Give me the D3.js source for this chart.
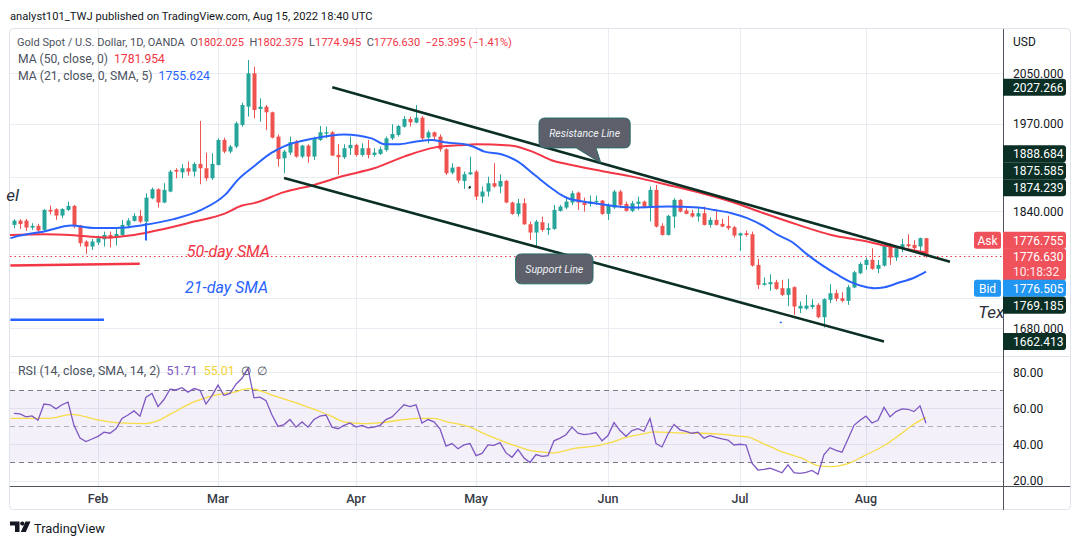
<!DOCTYPE html>
<html><head><meta charset="utf-8">
<script src="https://cdn.jsdelivr.net/npm/d3@7"></script>
<style>body{margin:0;background:#fff;} svg{display:block;font-family:Roboto,"Noto Sans",sans-serif;} text{white-space:pre;}</style>
</head><body><svg id="c" width="1079" height="545"></svg>
<script>
// ---------------- DATA ----------------
const opens=[1820.8,1826.9,1826.9,1817.0,1819.4,1813.7,1842.2,1843.2,1834.1,1842.2,1848.0,1819.9,1797.3,1790.3,1795.9,1800.5,1806.6,1802.9,1806.6,1819.9,1826.5,1833.7,1825.5,1859.1,1872.2,1852.9,1868.8,1900.6,1897.1,1903.1,1898.1,1909.6,1903.1,1888.3,1908.1,1945.6,1928.0,1935.6,1968.5,1996.8,2049.5,1993.2,1996.8,1988.1,1950.7,1918.0,1926.5,1943.2,1920.5,1937.1,1920.5,1945.6,1955.2,1957.3,1923.0,1919.5,1933.1,1938.1,1923.0,1933.1,1923.0,1924.5,1930.5,1948.1,1953.2,1966.0,1977.7,1972.1,1979.8,1949.1,1957.3,1950.7,1931.5,1896.6,1905.1,1884.4,1894.2,1898.1,1861.5,1868.8,1881.0,1876.1,1884.4,1852.9,1836.5,1851.8,1821.7,1810.0,1824.6,1813.7,1815.1,1840.8,1845.6,1852.9,1867.3,1852.9,1850.9,1853.7,1855.7,1836.5,1845.6,1868.8,1850.9,1840.8,1850.9,1854.2,1847.0,1871.2,1819.4,1806.6,1832.7,1856.7,1841.3,1837.5,1832.7,1837.5,1820.8,1827.9,1822.3,1819.4,1817.5,1805.7,1809.0,1807.6,1764.8,1737.5,1738.4,1741.2,1733.0,1724.0,1734.4,1705.6,1705.6,1707.7,1710.6,1694.2,1717.3,1726.3,1719.5,1716.0,1734.0,1753.4,1764.8,1771.8,1759.4,1763.9,1791.7,1775.0,1788.0,1793.5,1792.6,1790.3,1802.025];
const highs=[1828.9,1829.0,1829.5,1823.2,1822.3,1843.6,1848.5,1844.6,1844.6,1854.2,1849.4,1820.8,1799.1,1801.0,1805.7,1811.3,1811.3,1816.1,1827.9,1830.3,1837.5,1842.2,1866.3,1874.6,1873.6,1881.0,1900.6,1903.1,1909.1,1913.0,1912.0,1974.7,1926.5,1925.5,1948.1,1949.1,1938.1,1973.6,2003.1,2070.9,2060.1,2010.0,1999.4,1989.1,1954.2,1930.5,1950.7,1945.6,1938.1,1939.1,1950.7,1967.0,1966.0,1959.3,1939.1,1939.1,1950.7,1940.1,1940.6,1945.6,1933.1,1935.6,1950.7,1969.6,1968.5,1982.3,1981.3,1999.4,1982.3,1960.3,1958.3,1954.2,1933.1,1910.6,1905.6,1898.1,1920.5,1900.6,1876.1,1890.7,1910.6,1894.2,1885.9,1854.2,1858.1,1859.1,1825.5,1827.9,1832.7,1823.2,1849.4,1849.4,1861.5,1869.8,1868.8,1860.0,1863.0,1863.0,1856.7,1851.8,1871.2,1871.2,1854.2,1855.2,1861.5,1855.7,1876.1,1878.5,1823.2,1835.1,1859.1,1857.7,1844.6,1842.2,1847.0,1847.0,1831.7,1840.8,1829.4,1833.7,1819.4,1810.0,1812.8,1811.3,1773.2,1747.6,1752.0,1744.3,1744.3,1745.7,1735.7,1715.1,1724.0,1718.2,1712.8,1719.5,1738.4,1730.8,1727.6,1737.5,1756.5,1768.5,1775.1,1787.9,1771.8,1793.5,1794.9,1788.9,1801.0,1807.5,1799.1,1802.9,1802.375];
const lows=[1816.1,1815.0,1812.3,1813.7,1806.6,1812.3,1836.0,1827.9,1830.3,1840.8,1816.1,1790.3,1780.0,1785.6,1792.6,1790.3,1788.9,1791.7,1804.3,1816.1,1825.5,1823.2,1823.2,1857.7,1845.6,1851.8,1867.8,1888.3,1888.3,1892.2,1890.7,1879.5,1884.4,1885.9,1907.1,1925.5,1925.5,1933.1,1966.0,1981.3,1978.8,1973.6,1960.8,1948.1,1905.6,1895.7,1923.0,1919.0,1918.0,1911.5,1915.5,1944.1,1948.1,1921.5,1893.2,1917.0,1923.0,1920.5,1920.5,1918.0,1920.5,1923.0,1928.0,1945.6,1950.7,1964.5,1966.0,1971.1,1945.6,1940.6,1945.6,1928.0,1893.2,1894.2,1881.0,1872.7,1893.2,1856.7,1851.8,1861.5,1874.6,1866.3,1851.8,1835.1,1832.7,1820.8,1799.6,1790.3,1811.3,1806.6,1813.7,1839.8,1843.2,1849.4,1842.2,1839.8,1847.0,1849.4,1835.1,1827.9,1843.6,1844.6,1839.8,1838.9,1842.2,1844.6,1825.5,1817.0,1805.7,1805.7,1816.1,1838.9,1836.0,1831.3,1825.5,1819.9,1817.0,1819.9,1817.5,1813.7,1802.9,1784.2,1804.3,1762.5,1732.1,1736.6,1729.5,1730.8,1722.3,1708.9,1697.3,1699.5,1704.0,1705.3,1692.9,1680.6,1712.8,1715.1,1714.2,1710.6,1733.0,1752.0,1758.0,1758.0,1753.4,1762.5,1764.8,1770.4,1782.4,1788.9,1784.2,1784.2,1774.945];
const closes=[1826.9,1822.0,1817.0,1819.4,1812.8,1842.2,1839.8,1834.1,1843.6,1848.0,1819.9,1795.0,1790.3,1797.3,1801.9,1806.6,1801.9,1808.0,1820.8,1827.0,1833.7,1825.5,1860.0,1872.2,1852.9,1871.2,1898.1,1898.1,1903.1,1898.1,1909.6,1903.1,1888.3,1909.6,1945.6,1928.0,1935.6,1971.1,1999.4,2049.5,1991.7,1996.8,1988.1,1949.1,1917.0,1928.0,1942.2,1920.5,1937.1,1920.5,1948.1,1957.3,1957.3,1922.0,1919.5,1933.1,1938.1,1923.0,1933.1,1923.0,1926.5,1931.5,1948.1,1954.7,1967.0,1977.7,1972.6,1979.8,1948.1,1957.3,1950.7,1931.5,1895.7,1904.1,1884.9,1894.2,1897.1,1861.5,1868.8,1881.0,1876.1,1884.4,1852.9,1836.5,1851.8,1821.7,1810.0,1825.5,1813.7,1816.1,1842.2,1847.0,1854.2,1866.3,1852.9,1849.4,1854.2,1855.2,1836.5,1848.5,1868.8,1849.4,1840.8,1851.8,1854.2,1847.0,1871.2,1818.4,1806.6,1833.7,1856.7,1839.8,1836.5,1832.7,1837.5,1820.8,1827.9,1820.8,1818.4,1816.1,1805.7,1809.0,1806.6,1763.9,1737.5,1739.7,1741.2,1732.1,1724.0,1733.0,1708.4,1709.3,1709.7,1710.6,1694.2,1718.2,1726.3,1718.6,1716.0,1734.4,1754.7,1766.2,1771.8,1759.4,1764.8,1791.7,1775.0,1788.0,1793.5,1790.8,1788.0,1802.0,1776.63];
const rsi=[57.2,56.9,55.3,55.8,53.4,62.4,62.0,59.7,62.0,63.5,50.6,43.5,41.6,43.0,44.5,46.8,46.2,48.7,54.4,56.3,58.6,55.7,66.2,68.3,61.0,64.9,70.6,70.2,71.5,69.0,71.0,70.0,62.4,67.1,72.9,67.1,68.3,73.4,76.7,82.0,65.8,66.2,64.3,56.3,50.0,51.0,53.8,49.6,52.5,49.6,53.8,55.7,56.3,49.6,48.7,50.6,51.9,49.6,50.6,49.2,49.6,50.6,53.8,55.3,58.6,62.0,61.0,62.0,51.9,53.8,52.5,48.7,39.1,40.5,37.6,39.7,40.5,33.8,35.0,39.7,39.5,41.0,35.3,32.9,37.2,32.5,30.0,34.4,33.4,33.8,42.0,43.5,45.4,49.6,46.2,45.4,45.8,46.6,42.0,44.9,52.1,47.7,44.5,47.7,48.7,47.3,54.4,40.5,38.6,45.8,51.1,48.1,47.3,46.2,46.8,43.5,44.9,43.9,43.1,42.4,39.7,40.1,39.7,29.6,25.8,26.2,26.8,25.6,24.3,28.7,24.3,23.9,24.5,25.6,23.5,34.4,38.2,36.7,35.7,43.0,50.6,53.4,55.7,51.9,53.4,60.5,55.3,58.2,59.7,59.5,58.2,61.4,51.71];
const rsiMaIdx=[-0.6,5.7,9.7,13.7,17.7,21.8,23.8,26.3,29.8,33.2,36.7,39,40.1,43.5,46.4,50.4,52.7,55,58.4,60.7,64.2,67.6,69.9,72.2,75.6,79.1,82.5,86,87.7,90,93.4,96.8,99.1,102,104.9,106.6,110.6,114.6,118.6,120.9,122,124.9,127.7,131.2,134,136.3,139.2,141.5,144.9,147.8,150.1,152];
const rsiMaVal=[54.4,54.4,56.7,53.8,51.9,51.5,52.9,57.2,63.3,67.1,69,71,70.6,66.8,63.8,59,56,52.5,51.5,51.9,53.4,54.4,54.4,52.5,50,44.9,40.5,36.7,35.9,35.3,37.8,39.1,40.7,43.9,45.8,47,46.4,46.2,45.4,44.5,44.3,40.5,36.3,32.5,28.3,27.7,29.6,33.4,39.1,45.8,51.5,55.01];
const ma50Idx=[-0.7,5,10,15,20,25,30,35,38,40,45,50,55,60,65,70,75,77,83,86.8,89.6,92.3,97.9,103.4,109,114.8,119.6,125.1,130.7,136.2,141.8,145.1,147.3,152];
const ma50Val=[1806.6,1807.5,1806,1803,1806.6,1815,1825.5,1836.5,1848.5,1852,1868,1878.5,1892,1903,1920.5,1934,1938,1939,1937,1926.5,1915,1909,1899,1890,1878.5,1866,1854,1837,1820.8,1806.6,1798,1791.7,1789,1781.954];
const ma21Idx=[-0.6,0,5,9.6,13.2,17,21.6,26.6,31,35.3,37.3,40,42.9,45,50,55,59.6,61.8,64,66.8,69.6,71.8,75.1,76.5,78.4,81.2,84,86.8,89.6,91.2,92.3,95.1,97.9,100.7,103.4,109,114,116.8,119.6,122.3,125.1,127.3,129.6,132.3,134.6,137.3,139.6,141.8,143.4,145.1,147.3,150.1,152];
const ma21Val=[1802,1803.5,1811.5,1819.8,1816.5,1816.5,1820.6,1829,1841.5,1865,1886,1906,1926,1936,1948,1954,1948,1939,1939,1943,1945.6,1942,1939,1935.6,1928,1924,1913,1893,1873.6,1864,1859,1854,1850.4,1847,1845.6,1847,1845.6,1842,1837.5,1830,1818.4,1806.6,1797,1778.7,1764.8,1751,1741,1735,1733,1734.4,1740,1747.6,1755.624];
const monthLabels=["Feb","Mar","Apr","May","Jun","Jul","Aug"];
const monthIdx=[14,34,57,77,99,121,142];
const priceTicks=[2050,1970,1890,1840,1780,1720,1680];
const priceTickLabels=[2050,1970,1840,1680]; // the others sit under the price badges
const rsiTicks=[80,60,40,20];
const rsiLevels=[70,50,30];
const resistanceLine=[[53.05,2027.266],[156,1769.185]];
const supportLine=[[45,1888.684],[145,1662.413]];
const markerLine=[[75.8,1875.585],[76.1,1874.239]];
const topBadges=[2027.266,1888.684,1875.585,1874.239];
const lowBadges=[1769.185,1662.413];
const askPrice=1776.755, lastPrice=1776.630, bidPrice=1776.505, countdown="10:18:32";
const legendO=1802.025, legendH=1802.375, legendL=1774.945, legendC=1776.630, legendChg="\u221225.395 (\u22121.41%)";
const ma50Last=1781.954, ma21Last=1755.624, rsiLast=51.71, rsiMaLast=55.01;

// ---------------- LAYOUT ----------------
const svg=d3.select('#c');
const PL=10, PR=1003, PT=29, PB=356, RT=357, RB=486;
const x=d3.scaleLinear().domain([0,152]).range([14,926]);
const y=d3.scaleLog().domain([2050,1680]).range([73,328]);
const yr=d3.scaleLinear().domain([20,80]).range([480.5,372.3]);
const GRID="#e9edf3", UP="#26a69a", DN="#ef5350", TXT="#131722", AX="#4c525e";
const DARK="#0b2f25";

const defs=svg.append('defs');
defs.append('clipPath').attr('id','cp').append('rect').attr('x',PL).attr('y',PT).attr('width',PR-PL).attr('height',PB-PT);
defs.append('clipPath').attr('id','cr').append('rect').attr('x',PL).attr('y',RT).attr('width',PR-PL).attr('height',RB-RT);

function fit(sel,w){const l=sel.node().getComputedTextLength();const fs=parseFloat(sel.attr('font-size'));sel.attr('font-size',(fs*w/l).toFixed(2));}

// header
const hdr=svg.append('text').attr('x',10).attr('y',20).attr('font-size',13).attr('fill',TXT)
  .text('analyst101_TWJ published on TradingView.com, Aug 15, 2022 18:40 UTC');
fit(hdr,363);

// frame
svg.append('rect').attr('x',9.5).attr('y',28.5).attr('width',1061).attr('height',481).attr('rx',4)
  .attr('fill','none').attr('stroke','#e0e3eb');

// grids
const gp=svg.append('g');
gp.selectAll('line.h').data(priceTicks).join('line')
  .attr('x1',PL).attr('x2',PR).attr('y1',d=>Math.round(y(d))+0.5).attr('y2',d=>Math.round(y(d))+0.5)
  .attr('stroke',GRID);
gp.selectAll('line.r').data(rsiTicks).join('line')
  .attr('x1',PL).attr('x2',PR).attr('y1',d=>Math.round(yr(d))+0.5).attr('y2',d=>Math.round(yr(d))+0.5)
  .attr('stroke',GRID);
gp.selectAll('line.v').data(monthIdx).join('line')
  .attr('x1',d=>Math.round(x(d))+0.5).attr('x2',d=>Math.round(x(d))+0.5).attr('y1',PT).attr('y2',RB)
  .attr('stroke',GRID);

// pane separators / axes lines
svg.append('line').attr('x1',PL).attr('x2',1070).attr('y1',PB+0.5).attr('y2',PB+0.5).attr('stroke','#e0e3eb');
svg.append('line').attr('x1',PR+0.5).attr('x2',PR+0.5).attr('y1',PT).attr('y2',510).attr('stroke','#50535e');
svg.append('line').attr('x1',PL).attr('x2',1070).attr('y1',RB+0.5).attr('y2',RB+0.5).attr('stroke','#50535e');

// ---------------- PRICE PANE ----------------
const pp=svg.append('g').attr('clip-path','url(#cp)');
pp.append('line').attr('x1',PL).attr('x2',PR).attr('y1',Math.round(y(lastPrice))+0.5).attr('y2',Math.round(y(lastPrice))+0.5)
  .attr('stroke','#f23645').attr('stroke-dasharray','1.5,3');

// candles
const idx=d3.range(closes.length);
const cg=pp.append('g');
cg.selectAll('line').data(idx).join('line')
  .attr('x1',i=>Math.round(x(i))+0.5).attr('x2',i=>Math.round(x(i))+0.5)
  .attr('y1',i=>y(highs[i])).attr('y2',i=>y(lows[i]))
  .attr('stroke',i=>closes[i]>=opens[i]?UP:DN).attr('stroke-width',1);
cg.selectAll('rect').data(idx).join('rect')
  .attr('x',i=>Math.round(x(i))-1.5).attr('width',4)
  .attr('y',i=>y(Math.max(opens[i],closes[i])))
  .attr('height',i=>Math.max(1,y(Math.min(opens[i],closes[i]))-y(Math.max(opens[i],closes[i]))))
  .attr('fill',i=>closes[i]>=opens[i]?UP:DN);

// moving averages
const lineP=d3.line().x(d=>x(d[0])).y(d=>y(d[1])).curve(d3.curveMonotoneX);
pp.append('path').attr('d',lineP(d3.zip(ma50Idx,ma50Val))).attr('fill','none').attr('stroke','#f23645').attr('stroke-width',2);
pp.append('path').attr('d',lineP(d3.zip(ma21Idx,ma21Val))).attr('fill','none').attr('stroke','#2962ff').attr('stroke-width',2);

// annotation drawings
pp.append('line').attr('x1',x(-0.6)).attr('x2',x(20.95)).attr('y1',y(1763.9)).attr('y2',y(1766.5)).attr('stroke','#f23645').attr('stroke-width',2.5);
pp.append('line').attr('x1',x(-0.6)).attr('x2',x(15)).attr('y1',y(1690.7)).attr('y2',y(1690.7)).attr('stroke','#2962ff').attr('stroke-width',2.5);
pp.append('line').attr('x1',x(22)).attr('x2',x(22)).attr('y1',y(1823.6)).attr('y2',y(1798.6)).attr('stroke','#2962ff').attr('stroke-width',2);
pp.append('rect').attr('x',x(127.8)-1).attr('y',y(1687)-1).attr('width',2).attr('height',1.5).attr('fill','#2962ff');
pp.append('text').attr('x',x(28.8)).attr('y',y(1776.3)).attr('font-size',16).attr('font-style','italic').attr('fill','#f23645').text('50-day SMA');
pp.append('text').attr('x',x(28.5)).attr('y',y(1726.3)).attr('font-size',16).attr('font-style','italic').attr('fill','#2962ff').text('21-day SMA');
// partially visible drawing texts (their starts lie off the visible range)
svg.append('text').attr('x',x(0.83)).attr('y',y(1855.3)).attr('text-anchor','end').attr('font-size',17).attr('font-style','italic').attr('fill','#2a2e39').text('el');
svg.append('text').attr('x',x(160.7)).attr('y',y(1693.3)).attr('font-size',17).attr('font-style','italic').attr('fill','#2a2e39').text('Tex');

// trend lines
const tl=d3.line().x(d=>x(d[0])).y(d=>y(d[1]));
[resistanceLine,supportLine,markerLine].forEach(L=>{
  pp.append('path').attr('d',tl(L)).attr('stroke',DARK).attr('stroke-width',2.6).attr('fill','none');
});

// callouts
function callout(i0,i1,p0,p1,label,tip,w){
  const bx0=x(i0),bx1=x(i1),by0=y(p0),by1=y(p1),r=6;
  let d=`M${bx0+r},${by0}H${bx1-r}Q${bx1},${by0} ${bx1},${by0+r}V${by1-r}Q${bx1},${by1} ${bx1-r},${by1}`;
  if(tip){d+=`H${x(tip[3])}L${x(tip[0])},${y(tip[1])}L${x(tip[2])},${by1}`;}
  d+=`H${bx0+r}Q${bx0},${by1} ${bx0},${by1-r}V${by0+r}Q${bx0},${by0} ${bx0+r},${by0}Z`;
  pp.append('path').attr('d',d).attr('fill','#5d606b').attr('stroke','#2a6b68').attr('stroke-width',1);
  const t=pp.append('text').attr('x',(bx0+bx1)/2).attr('y',(by0+by1)/2+4.5).attr('text-anchor','middle')
    .attr('font-size',12.5).attr('font-style','italic').attr('fill','#eef0f4').text(label);
  fit(t,w);
}
callout(87.5,102.7,1979.2,1933.6,'Resistance Line',[97.8,1911,93.7,97.0],71);
callout(83.6,96.5,1780,1738.9,'Support Line',null,58);

// legend
const lg=svg.append('text').attr('x',17).attr('y',46).attr('font-size',13).attr('fill',AX);
const RED='#f23645';
[['Gold Spot / U.S. Dollar, 1D, OANDA  O',AX],[legendO.toFixed(3),RED],['  H',AX],[legendH.toFixed(3),RED],['  L',AX],[legendL.toFixed(3),RED],['  C',AX],[legendC.toFixed(3),RED],['  '+legendChg,RED]]
  .forEach(s=>lg.append('tspan').attr('fill',s[1]).text(s[0]));
fit(lg,495);
const l2=svg.append('text').attr('x',18).attr('y',63).attr('font-size',13).attr('fill',AX);
l2.append('tspan').text('MA (50, close, 0)  ');l2.append('tspan').attr('fill',RED).text(ma50Last.toFixed(3));
fit(l2,147);
const l3=svg.append('text').attr('x',18).attr('y',80).attr('font-size',13).attr('fill',AX);
l3.append('tspan').text('MA (21, close, 0, SMA, 5)  ');l3.append('tspan').attr('fill','#2962ff').text(ma21Last.toFixed(3));
fit(l3,192);

// ---------------- RSI PANE ----------------
const rp=svg.append('g').attr('clip-path','url(#cr)');
rp.append('rect').attr('x',PL).attr('width',PR-PL).attr('y',yr(70)).attr('height',yr(30)-yr(70)).attr('fill','rgba(126,87,194,0.09)');
rp.selectAll('line.lv').data(rsiLevels).join('line')
  .attr('x1',PL).attr('x2',PR).attr('y1',d=>Math.round(yr(d))+0.5).attr('y2',d=>Math.round(yr(d))+0.5)
  .attr('stroke',d=>d===50?'rgba(120,123,134,0.55)':'#787b86').attr('stroke-dasharray','5,4');
const lr=d3.line().x(d=>x(d[0])).y(d=>yr(d[1]));
rp.append('path').attr('d',lr.curve(d3.curveMonotoneX)(d3.zip(rsiMaIdx,rsiMaVal))).attr('fill','none').attr('stroke','#f7dc45').attr('stroke-width',1.3);
rp.append('path').attr('d',d3.line().x((d,i)=>x(i)).y(d=>yr(d))(rsi)).attr('fill','none').attr('stroke','#7e57c2').attr('stroke-width',1.3);
const rl=svg.append('text').attr('x',18).attr('y',375).attr('font-size',13).attr('fill',AX);
rl.append('tspan').text('RSI (14, close, SMA, 14, 2)  ');
rl.append('tspan').attr('fill','#7e57c2').text(rsiLast.toFixed(2)+'  ');
rl.append('tspan').attr('fill','#f2d434').text(rsiMaLast.toFixed(2)+'  ');
rl.append('tspan').attr('fill',AX).text('\u2205  \u2205');
fit(rl,250);

// ---------------- AXES ----------------
svg.append('text').attr('x',1013).attr('y',46).attr('font-size',12).attr('fill',TXT).text('USD');
svg.selectAll('text.pt').data(priceTickLabels).join('text').attr('class','pt')
  .attr('x',1013).attr('y',d=>y(d)+4.5).attr('font-size',12).attr('fill',TXT).text(d=>d.toFixed(3));
svg.selectAll('text.rt').data(rsiTicks).join('text').attr('class','rt')
  .attr('x',1013).attr('y',d=>yr(d)+4.5).attr('font-size',12).attr('fill',TXT).text(d=>d.toFixed(2));
svg.selectAll('text.mt').data(monthIdx).join('text').attr('class','mt')
  .attr('x',d=>x(d)).attr('y',503).attr('text-anchor','middle').attr('font-size',12.5).attr('font-weight',500).attr('fill','#363a45')
  .text((d,i)=>monthLabels[i]);

// badges
function badge(cy,txt,col,h){h=h||17;
  svg.append('path').attr('d',`M${PR},${cy-h/2}H1063Q1066,${cy-h/2} 1066,${cy-h/2+3}V${cy+h/2-3}Q1066,${cy+h/2} 1063,${cy+h/2}H${PR}Z`).attr('fill',col);
  if(Array.isArray(txt)){txt.forEach((t,k)=>svg.append('text').attr('x',1013).attr('y',cy-h/2+12.5+k*15).attr('font-size',12).attr('fill','#fff').attr('fill-opacity',k?0.9:1).text(t));}
  else svg.append('text').attr('x',1013).attr('y',cy+4.3).attr('font-size',12).attr('fill','#fff').text(txt);
}
function sideLabel(cy,txt,col){
  svg.append('rect').attr('x',974).attr('y',cy-8.5).attr('width',27).attr('height',17).attr('rx',2.5).attr('fill',col);
  svg.append('text').attr('x',987.5).attr('y',cy+4.3).attr('text-anchor','middle').attr('font-size',12).attr('fill','#fff').text(txt);
}
const tb=topBadges.map(v=>({v,cy:y(v)})).sort((a,b)=>b.cy-a.cy);
for(let k=1;k<tb.length;k++){ if(tb[k-1].cy-tb[k].cy<17) tb[k].cy=tb[k-1].cy-17; }
tb.forEach(b=>badge(b.cy,b.v.toFixed(3),DARK));
const cy=y(lastPrice);
badge(cy-16,askPrice.toFixed(3),'#f0525c');
badge(cy+8,[lastPrice.toFixed(3),countdown],'#f0525c',32);
badge(cy+32,bidPrice.toFixed(3),'#2196f3');
sideLabel(cy-16,'Ask','#f0525c');
sideLabel(cy+32,'Bid','#2196f3');
badge(cy+49,lowBadges[0].toFixed(3),DARK);
badge(y(lowBadges[1]),lowBadges[1].toFixed(3),DARK);

// footer logo
const lgG=svg.append('g').attr('fill',TXT);
lgG.append('path').attr('d','M10,521.5H19.5V532H15V525.5H10Z');
lgG.append('circle').attr('cx',22.3).attr('cy',523.6).attr('r',2.1);
lgG.append('path').attr('d','M25.5,521.5H30.5L25.8,532H20.8Z');
const tvt=svg.append('text').attr('x',34).attr('y',532.5).attr('font-size',14).attr('fill',TXT).text('TradingView');
fit(tvt,71);
</script></body></html>
